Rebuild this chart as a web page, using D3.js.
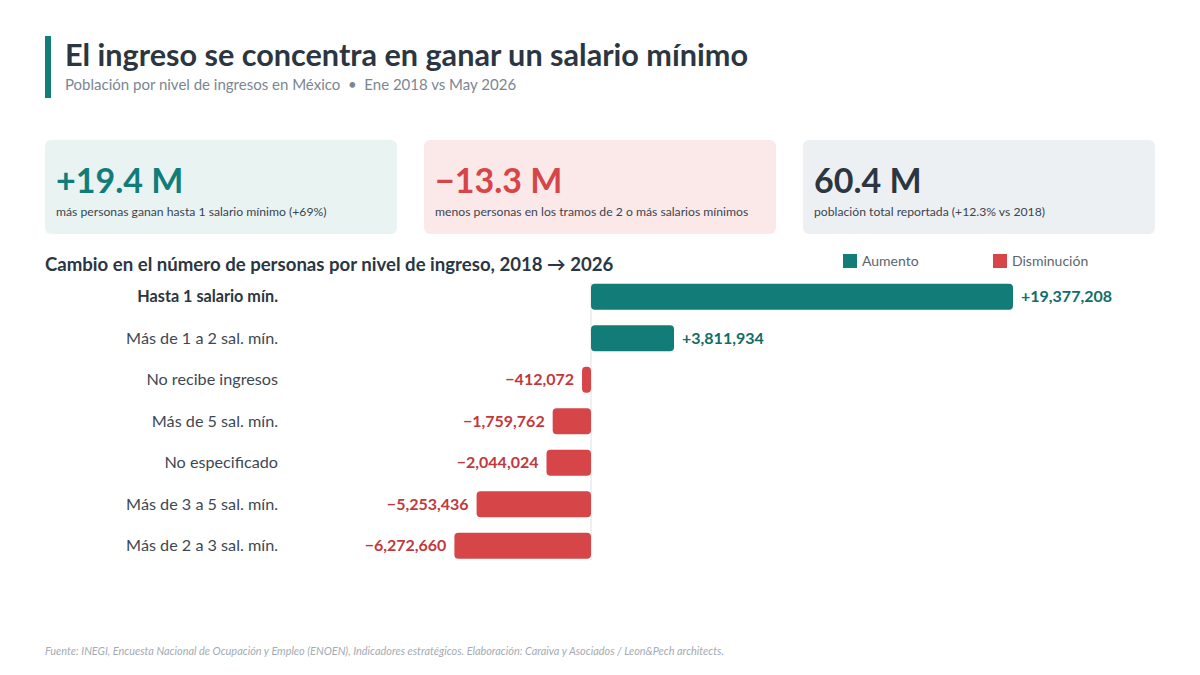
<!DOCTYPE html>
<html><head><meta charset="utf-8">
<script src="https://cdn.jsdelivr.net/npm/d3@7"></script>
<style>
body{margin:0;background:#fff;}
svg{display:block;font-family:Lato,"Open Sans",sans-serif;}
</style></head>
<body><svg id="c" width="1200" height="675"></svg>
<script>
const categories = ["Hasta 1 salario mín.","Más de 1 a 2 sal. mín.","No recibe ingresos","Más de 5 sal. mín.","No especificado","Más de 3 a 5 sal. mín.","Más de 2 a 3 sal. mín."];
const changes = [19377208, 3811934, -412072, -1759762, -2044024, -5253436, -6272660];
const cardValues = ["+19.4 M","\u221213.3 M","60.4 M"];
const cardTexts = ["más personas ganan hasta 1 salario mínimo (+69%)","menos personas en los tramos de 2 o más salarios mínimos","población total reportada (+12.3% vs 2018)"];
const legendLabels = ["Aumento","Disminución"];

const TEAL="#127c79", RED="#d64548", TEALT="#0f6c69", REDT="#c2383c", DARK="#2b3641";
const svg = d3.select("#c");

// header
svg.append("rect").attr("x",45).attr("y",36).attr("width",6).attr("height",62).attr("fill",TEAL);
svg.append("text").attr("x",65).attr("y",66).attr("font-size",30.6).attr("font-weight",700).attr("fill",DARK)
  .text("El ingreso se concentra en ganar un salario mínimo");
svg.append("text").attr("x",65).attr("y",90).attr("font-size",15).attr("fill","#7b8692").style("white-space","pre")
  .text("Población por nivel de ingresos en México  \u2022  Ene 2018 vs May 2026");

// cards
const cardX=[45,424,803], cardBg=["#e9f3f2","#fbe9e9","#edf0f3"], cardFg=[TEAL,RED,DARK];
cardX.forEach((x,i)=>{
  svg.append("rect").attr("x",x).attr("y",140).attr("width",352).attr("height",94).attr("rx",6).attr("fill",cardBg[i]);
  svg.append("text").attr("x",x+11).attr("y",193).attr("font-size",34).attr("font-weight",700).attr("fill",cardFg[i]).text(cardValues[i]);
  svg.append("text").attr("x",x+11).attr("y",216).attr("font-size",12.2).attr("fill","#3a4550").text(cardTexts[i]);
});

// section title
svg.append("text").attr("x",45).attr("y",271).attr("font-size",18.6).attr("font-weight",700).attr("fill",DARK)
  .text("Cambio en el número de personas por nivel de ingreso, 2018 \u2192 2026");

// legend
[[843,TEAL],[993,RED]].forEach(([x,c],i)=>{
  svg.append("rect").attr("x",x).attr("y",254).attr("width",14).attr("height",14).attr("fill",c);
  svg.append("text").attr("x",x+19).attr("y",266).attr("font-size",14).attr("fill","#5a6570").text(legendLabels[i]);
});

// chart
const x = d3.scaleLinear().domain([-6272660,19377208]).range([454.4,1013]);
const y = d3.scaleBand().domain(categories).range([276,566.5]).paddingInner(0.37).paddingOuter(0.185);
const g = svg.append("g");
g.append("line").attr("x1",x(0)).attr("x2",x(0)).attr("y1",283).attr("y2",560).attr("stroke","#dde1e5").attr("stroke-width",1);

const rows = g.selectAll("g.r").data(categories.map((c,i)=>({c,v:changes[i],i}))).join("g");
rows.append("rect")
  .attr("x",d=>x(Math.min(0,d.v))).attr("width",d=>Math.abs(x(d.v)-x(0)))
  .attr("y",d=>y(d.c)).attr("height",y.bandwidth()).attr("rx",4)
  .attr("fill",d=>d.v>=0?TEAL:RED);
rows.append("text").attr("x",278).attr("y",d=>y(d.c)+y.bandwidth()/2).attr("dy","0.35em")
  .attr("text-anchor","end").attr("font-size",16.2).attr("font-weight",d=>d.i===0?700:400)
  .attr("fill",d=>d.i===0?DARK:"#3d4853").text(d=>d.c);
const fmt=d3.format(",");
rows.append("text")
  .attr("x",d=>d.v>=0?x(d.v)+8:x(d.v)-8)
  .attr("y",d=>y(d.c)+y.bandwidth()/2).attr("dy","0.35em")
  .attr("text-anchor",d=>d.v>=0?"start":"end")
  .attr("font-size",16).attr("font-weight",700).attr("fill",d=>d.v>=0?TEALT:REDT)
  .text(d=>(d.v>=0?"+":"\u2212")+fmt(Math.abs(d.v)));

// footer
svg.append("text").attr("x",45).attr("y",655).attr("font-size",10.9).attr("font-style","italic").attr("fill","#a3abb3")
  .text("Fuente: INEGI, Encuesta Nacional de Ocupación y Empleo (ENOEN), Indicadores estratégicos. Elaboración: Caraiva y Asociados / Leon&Pech architects.");
</script></body></html>
